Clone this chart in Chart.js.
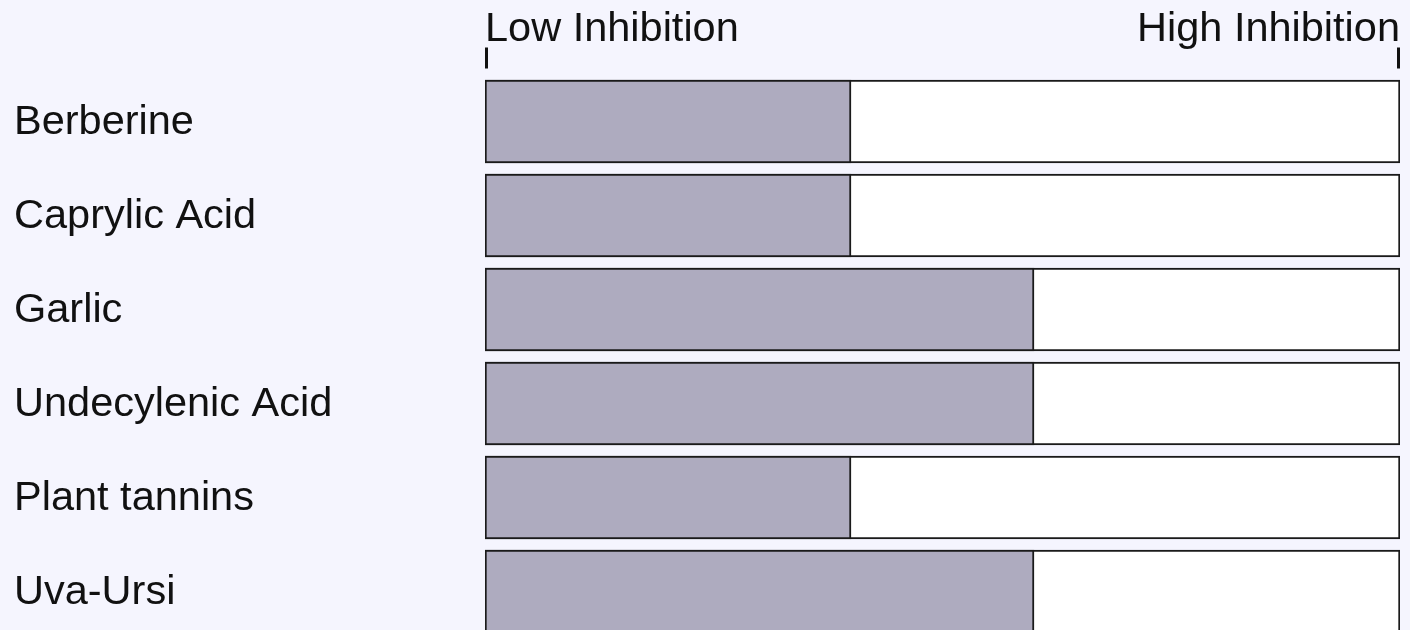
<!DOCTYPE html>
<html>
<head>
<meta charset="utf-8">
<script src="https://cdn.jsdelivr.net/npm/chart.js@4.4.0/dist/chart.umd.min.js"></script>
<style>
    html, body { margin: 0; padding: 0; background: #f5f5fe; overflow: hidden; }
    #wrap { width: 1410px; height: 630px; overflow: hidden; }
    #wrap canvas { display: block; }
</style>
</head>
<body>
<div id="wrap">
    <canvas id="inhibitionChart" width="1410" height="650"></canvas>
</div>
<script>
// --- Data ---
const categories = ['Berberine', 'Caprylic Acid', 'Garlic', 'Undecylenic Acid', 'Plant tannins', 'Uva-Ursi'];
const inhibitionValues = [40, 40, 60, 60, 40, 60];
const trackValues = [100, 100, 100, 100, 100, 100];
const scaleLabels = ['Low Inhibition', 'High Inhibition'];
const scaleMin = 0;
const scaleMax = 100;

const FONT = { family: '"Liberation Sans", Arial, sans-serif', size: 41.5 };

// tick marks kecil di atas sumbu x (ujung kiri dan kanan)
const endTicks = {
    id: 'endTicks',
    afterDraw(chart) {
        const ctx = chart.ctx;
        const xScale = chart.scales.x;
        const top = chart.chartArea.top;
        ctx.save();
        ctx.strokeStyle = '#111';
        ctx.lineWidth = 3;
        xScale.ticks.forEach(t => {
            const px = Math.round(xScale.getPixelForValue(t.value)) + (t.value === scaleMin ? 1.5 : -1.5);
            ctx.beginPath();
            ctx.moveTo(px, top - 27);
            ctx.lineTo(px, top - 6);
            ctx.stroke();
        });
        ctx.restore();
    }
};

const ctx = document.getElementById('inhibitionChart').getContext('2d');
new Chart(ctx, {
    type: 'bar',
    data: {
        labels: categories,
        datasets: [
            {
                label: 'Inhibition',
                data: inhibitionValues,
                backgroundColor: '#aeabbf',
                borderColor: '#1a1a1a',
                borderWidth: 2,
                borderSkipped: false,
                order: 0
            },
            {
                label: 'Track',
                data: trackValues,
                backgroundColor: '#ffffff',
                borderColor: '#1a1a1a',
                borderWidth: 2,
                borderSkipped: false,
                order: 1
            }
        ]
    },
    options: {
        indexAxis: 'y',
        responsive: false,
        animation: false,
        layout: { padding: { left: 14, right: 10, top: 0, bottom: 11.5 } },
        datasets: { bar: { grouped: false, barThickness: 83 } },
        scales: {
            x: {
                position: 'top',
                min: scaleMin,
                max: scaleMax,
                grid: { display: false, drawTicks: false },
                border: { display: false },
                ticks: {
                    stepSize: scaleMax - scaleMin,
                    align: 'inner',
                    padding: 20,
                    color: '#111',
                    font: FONT,
                    callback: (v) => v === scaleMin ? scaleLabels[0] : (v === scaleMax ? scaleLabels[1] : '')
                },
                afterFit: (scale) => {
                    scale.height = 74.5;
                    scale.paddingLeft = 0;
                    scale.paddingRight = 0;
                }
            },
            y: {
                grid: { display: false, drawTicks: false },
                border: { display: false },
                ticks: {
                    crossAlign: 'far',
                    color: '#111',
                    font: FONT,
                    labelOffset: 1
                },
                afterFit: (scale) => {
                    scale.width = 471;
                    scale.paddingTop = 0;
                    scale.paddingBottom = 0;
                }
            }
        },
        plugins: {
            legend: { display: false },
            tooltip: { enabled: false }
        }
    },
    plugins: [endTicks]
});
</script>
</body>
</html>
